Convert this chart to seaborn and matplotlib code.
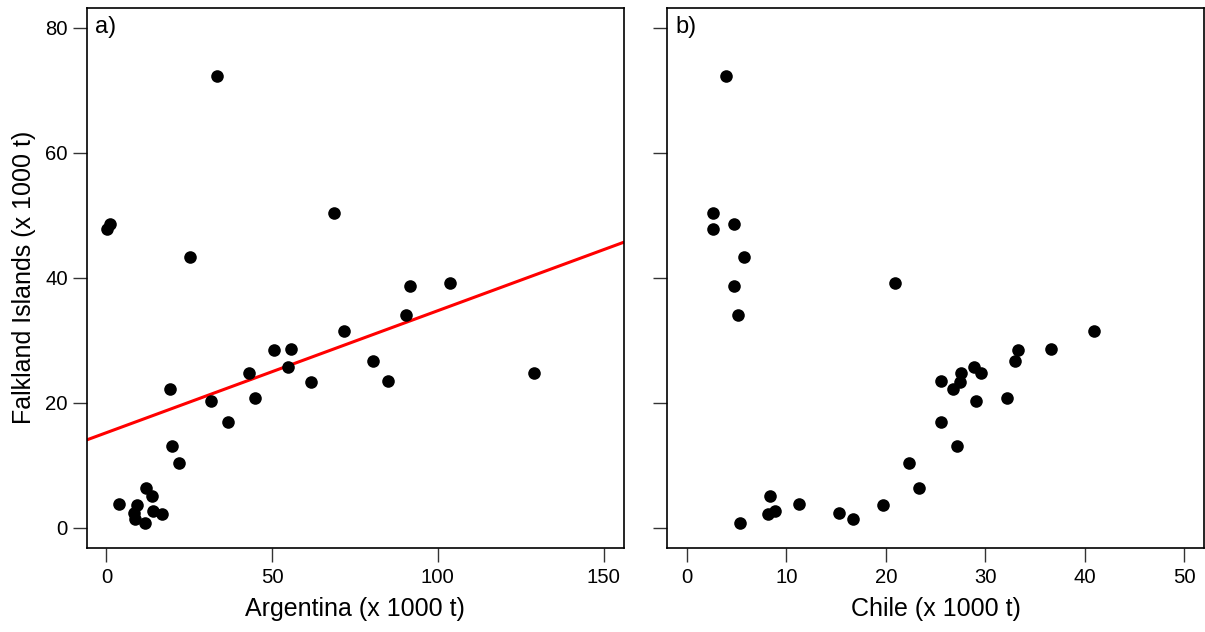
import matplotlib
matplotlib.use("Agg")
import matplotlib.pyplot as plt
import seaborn as sns
import pandas as pd
import numpy as np

# ---- data (thousand tonnes) ----
falkland = [72.3, 50.4, 47.8, 48.6, 43.3, 38.6, 39.1, 34.0, 31.4, 28.6, 28.4, 26.7,
            25.7, 24.8, 24.8, 23.3, 23.5, 22.1, 20.3, 20.7, 16.9, 13.1, 10.3, 6.4,
            5.1, 3.7, 3.6, 2.4, 1.4, 2.7, 2.2, 0.7]
argentina = [33.3, 68.8, 0.1, 1.2, 25.3, 91.6, 103.6, 90.3, 71.8, 55.6, 50.6, 80.3,
             54.8, 43.0, 128.9, 61.8, 85.0, 19.3, 31.7, 44.9, 36.7, 19.9, 22.0, 12.0,
             13.7, 3.8, 9.3, 8.2, 8.7, 14.0, 16.7, 11.7]
chile = [3.92, 2.61, 2.61, 4.72, 5.70, 4.72, 20.97, 5.12, 40.93, 36.65, 33.27, 33.02,
         28.88, 27.58, 29.58, 27.47, 25.55, 26.78, 29.1, 32.18, 25.55, 27.15, 22.32, 23.33,
         8.31, 11.25, 19.74, 15.28, 16.73, 8.9, 8.2, 5.34]

x_ticks_a = [0, 50, 100, 150]
x_ticks_b = [0, 10, 20, 30, 40, 50]
y_ticks = [0, 20, 40, 60, 80]

df = pd.DataFrame({"Falkland": falkland, "Argentina": argentina, "Chile": chile})

sns.set_style("ticks")
plt.rcParams["font.family"] = ["Liberation Sans", "DejaVu Sans"]
plt.rcParams["text.color"] = "black"
plt.rcParams["axes.labelcolor"] = "black"

fig = plt.figure(figsize=(12.05, 6.32), dpi=100)
W, H = 1205, 632
axa = fig.add_axes([86.5 / W, (H - 547.5) / H, 537 / W, 540 / H])
axb = fig.add_axes([667 / W, (H - 547.5) / H, 537 / W, 540 / H])

tick_fs = 14.6
label_fs = 18

for ax in (axa, axb):
    ax.set_ylim(-3.2, 83.2)
    ax.set_yticks(y_ticks)
    for sp in ax.spines.values():
        sp.set_visible(True)
        sp.set_linewidth(1.2)
        sp.set_color("black")
    ax.tick_params(direction="out", length=10.4, width=1.0, color="#333333",
                   labelsize=tick_fs, labelcolor="black")
    ax.tick_params(axis="x", pad=4.5)
    ax.tick_params(axis="y", pad=3)

axa.set_xlim(-6, 156)
axa.set_xticks(x_ticks_a)
axb.set_xlim(-2, 52)
axb.set_xticks(x_ticks_b)

sns.regplot(data=df, x="Argentina", y="Falkland", ax=axa, scatter=False, ci=None,
            truncate=False, color="red", line_kws={"linewidth": 2.2, "color": "#ff0000"})
sns.scatterplot(data=df, x="Argentina", y="Falkland", ax=axa, s=82, color="black",
                linewidth=0, zorder=3)
sns.scatterplot(data=df, x="Chile", y="Falkland", ax=axb, s=82, color="black",
                linewidth=0, zorder=3)

axa.set_xlim(-6, 156)
axb.set_xlim(-2, 52)
axa.set_xlabel("Argentina (x 1000 t)", fontsize=label_fs, labelpad=7, color="black")
axa.set_ylabel("Falkland Islands (x 1000 t)", fontsize=label_fs, labelpad=7, color="black")
axb.set_xlabel("Chile (x 1000 t)", fontsize=label_fs, labelpad=7, color="black")
axb.set_ylabel("")
axb.tick_params(axis="y", labelleft=False)

axa.text(0.016, 0.985, "a)", transform=axa.transAxes, fontsize=17, va="top", ha="left",
         color="black")
axb.text(0.016, 0.985, "b)", transform=axb.transAxes, fontsize=17, va="top", ha="left",
         color="black")

fig.savefig("out.png", dpi=100)
